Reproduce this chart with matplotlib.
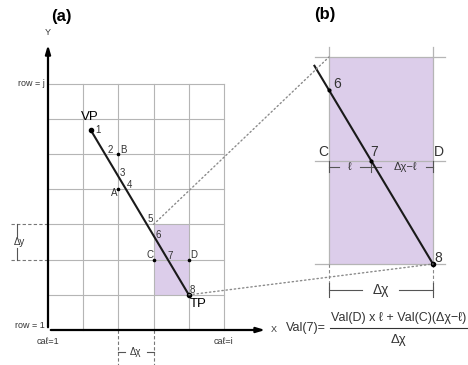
import matplotlib
matplotlib.use("Agg")
import matplotlib.pyplot as plt
from matplotlib.patches import Rectangle, ConnectionPatch

plt.rcParams['font.family'] = ['Liberation Sans', 'DejaVu Sans']

# grid of panel (a): columns x rows of cells
n_cols, n_rows = 5, 7
vp = (1.22, 5.67)          # start point of the ray
tp = (4.0, 1.0)            # end point of the ray
zoom_cell = (3, 1, 1, 2)   # x, y, w, h of the cell block shown in (b)
b_line_start = 2.86        # x where the ray enters panel (b)

# crossings of the ray with grid lines, numbered 2..7
crossings = [("y", 5), ("x", 2), ("y", 4), ("y", 3), ("x", 3), ("y", 2)]
num_offsets = [(4, 0), (5, 4), (4, 4), (4, 4), (3, 5), (5, 1), (2, 4), (4, 5)]
corners = ["A", "B", "C", "D"]
corner_xy = [(2, 4), (2, 5), (3, 2), (4, 2)]
corner_offsets = [(-4, -4), (5, 4), (-4, 5), (5, 5)]

grid_c = "#b5b5b5"
purple = "#dccdea"
txt_c = "#333333"
line_c = "#1a1a1a"


def cross(kind, v):
    slope = (tp[1] - vp[1]) / (tp[0] - vp[0])
    if kind == "x":
        return v, vp[1] + slope * (v - vp[0])
    return vp[0] + (v - vp[1]) / slope, v


def line_y(x):
    slope = (tp[1] - vp[1]) / (tp[0] - vp[0])
    return vp[1] + slope * (x - vp[0])


fig = plt.figure(figsize=(4.68, 3.65), dpi=100)
s = 35.2
ax = fig.add_axes([0, 0, 1, 1])
ax.set_xlim(-48 / s, 420 / s)
ax.set_ylim(-35 / s, 330 / s)
ax.axis("off")

# ---- panel (a) ----
zx, zy, zw, zh = zoom_cell
ax.add_patch(Rectangle((zx, zy), zw, zh, fc=purple, ec="none", zorder=0))
for i in range(1, n_cols + 1):
    ax.plot([i, i], [0, n_rows], color=grid_c, lw=0.8, zorder=1)
for j in range(1, n_rows + 1):
    ax.plot([0, n_cols], [j, j], color=grid_c, lw=0.8, zorder=1)

ax.annotate("", xy=(0, 8.18), xytext=(0, 0),
            arrowprops=dict(arrowstyle="-|>,head_length=0.5,head_width=0.15", color="black", lw=1.6))
ax.annotate("", xy=(6.25, 0), xytext=(0, 0),
            arrowprops=dict(arrowstyle="-|>,head_length=0.5,head_width=0.15", color="black", lw=1.6))
ax.text(0, 8.45, "Y", ha="center", va="center", fontsize=6.5, color=txt_c)
ax.text(6.33, 0, "X", ha="left", va="center", fontsize=6.5, color=txt_c)
ax.text(-0.09, n_rows, "row = j", ha="right", va="center", fontsize=6.5, color=txt_c)
ax.text(-0.09, 0.14, "row = 1", ha="right", va="center", fontsize=6.5, color=txt_c)
ax.text(0, -0.34, "caℓ=1", ha="center", va="center", fontsize=6.5, color=txt_c)
ax.text(n_cols, -0.34, "caℓ=i", ha="center", va="center", fontsize=6.5, color=txt_c)

# delta y bracket
ax.plot([-1.05, 0], [2, 2], color="#777777", lw=0.8, ls=(0, (3, 2)))
ax.plot([-1.05, 0], [3, 3], color="#777777", lw=0.8, ls=(0, (3, 2)))
ax.plot([-0.88, -0.88], [2, 2.33], color="#555555", lw=0.8)
ax.plot([-0.88, -0.88], [2.67, 3], color="#555555", lw=0.8)
ax.text(-0.82, 2.5, "Δy", ha="center", va="center", fontsize=7, color=txt_c)

# delta x bracket
for xv in (2, 3):
    ax.plot([xv, xv], [0, -1.0], color="#777777", lw=0.8, ls=(0, (3, 2)))
ax.plot([2, 2.2], [-0.62, -0.62], color="#555555", lw=0.8)
ax.plot([2.8, 3], [-0.62, -0.62], color="#555555", lw=0.8)
ax.text(2.5, -0.62, "Δχ", ha="center", va="center", fontsize=7, color=txt_c)

# the ray
ax.plot([vp[0], tp[0]], [vp[1], tp[1]], color=line_c, lw=1.5, zorder=3)
ax.plot(*vp, "o", color="black", ms=3, zorder=4)
ax.plot(*tp, "o", color="black", ms=3, zorder=4)
pts = [vp] + [cross(k, v) for k, v in crossings] + [tp]
for n, (p, off) in enumerate(zip(pts, num_offsets), start=1):
    ax.annotate(str(n), p, xytext=off, textcoords="offset pixels",
                ha="left" if n == 1 else "center", va="center", fontsize=7, color=txt_c)
for lab, p, off in zip(corners, corner_xy, corner_offsets):
    ax.plot(*p, "o", color="black", ms=1.6, zorder=4)
    ax.annotate(lab, p, xytext=off, textcoords="offset pixels",
                ha="center", va="center", fontsize=7, color=txt_c)
ax.annotate("VP", vp, xytext=(-1, 13), textcoords="offset pixels",
            ha="center", va="center", fontsize=9.5, color="black")
ax.annotate("TP", tp, xytext=(9, -9), textcoords="offset pixels",
            ha="center", va="center", fontsize=9.5, color="black")

# formula
ax.text(7.33, 0.06, "Val(7)=", ha="center", va="center", fontsize=9, color=txt_c)
ax.plot([8.02, 11.9], [0.06, 0.06], color=txt_c, lw=0.8)
ax.text(9.96, 0.35, "Val(D) x ℓ + Val(C)(Δχ−ℓ)", ha="center", va="center",
        fontsize=9, color=txt_c)
ax.text(9.96, -0.27, "Δχ", ha="center", va="center", fontsize=9.5, color=txt_c)

# ---- panel (b) ----
bx = fig.add_axes([300 / 468, 0, 168 / 468, 1])
bx.set_xlim(3 - 29 / 104, 3 + 139 / 104)
bx.set_ylim(1 - 101 / 103.5, 1 + 264 / 103.5)
bx.axis("off")
bx.add_patch(Rectangle((zx, zy), zw, zh, fc=purple, ec="none", zorder=0))
for j in range(zy, zy + zh + 1):
    bx.plot([2.865, 4.115], [j, j], color=grid_c, lw=0.9, zorder=1)
for xv in (zx, zx + zw):
    bx.plot([xv, xv], [zy, zy + zh + 0.1], color=grid_c, lw=0.9, zorder=1)
    bx.plot([xv, xv], [zy, 0.72], color="#888888", lw=0.8, ls=(0, (3, 2)))
bx.plot([b_line_start, tp[0]], [line_y(b_line_start), tp[1]], color=line_c, lw=1.5, zorder=3)

p6 = cross("x", 3)
p7 = cross("y", 2)
bx.plot(*p6, "o", color="black", ms=2, zorder=4)
bx.plot(*p7, "o", color="black", ms=2, zorder=4)
bx.plot(*tp, "o", color="black", ms=3, zorder=4)
for lab, p, off in [("6", p6, (8, 6)), ("7", p7, (3, 9)), ("8", tp, (5, 6)),
                    ("C", (3, 2), (-6, 9)), ("D", (4, 2), (6, 9))]:
    bx.annotate(lab, p, xytext=off, textcoords="offset pixels",
                ha="center", va="center", fontsize=10, color=txt_c)

# l / dx-l dimension under the middle line
dim_y = 1.94
dim_c = "#555555"
bx.plot([3, 3.1], [dim_y, dim_y], color=dim_c, lw=0.8)
bx.plot([3.3, 3.5], [dim_y, dim_y], color=dim_c, lw=0.8)
bx.plot([3.93, 4], [dim_y, dim_y], color=dim_c, lw=0.8)
for xv in (3, p7[0], 4):
    bx.plot([xv, xv], [dim_y - 0.055, dim_y + 0.055], color=dim_c, lw=0.8)
bx.text(3.2, dim_y, "ℓ", ha="center", va="center", fontsize=8, color=txt_c)
bx.text(3.73, dim_y, "Δχ−ℓ", ha="center", va="center", fontsize=8, color=txt_c)

# dx dimension under the block
dx_y = 0.75
bx.plot([3, 3.32], [dx_y, dx_y], color=dim_c, lw=0.8)
bx.plot([3.67, 4], [dx_y, dx_y], color=dim_c, lw=0.8)
for xv in (3, 4):
    bx.plot([xv, xv], [dx_y - 0.07, dx_y + 0.07], color=dim_c, lw=0.8)
bx.text(3.5, dx_y, "Δχ", ha="center", va="center", fontsize=10, color=txt_c)

# dotted connectors between panels
for pa in [(zx, zy + zh), (zx + zw, zy)]:
    con = ConnectionPatch(xyA=pa, coordsA=ax.transData, xyB=pa, coordsB=bx.transData,
                          color="#8a8a8a", lw=1.0, ls=(0, (1, 2)), zorder=2)
    fig.add_artist(con)

fig.text(61 / 468, 1 - 16 / 365, "(a)", ha="center", va="center",
         fontsize=12, fontweight="bold")
fig.text(325 / 468, 1 - 15 / 365, "(b)", ha="center", va="center",
         fontsize=12, fontweight="bold")

fig.savefig("out.png", dpi=100)
